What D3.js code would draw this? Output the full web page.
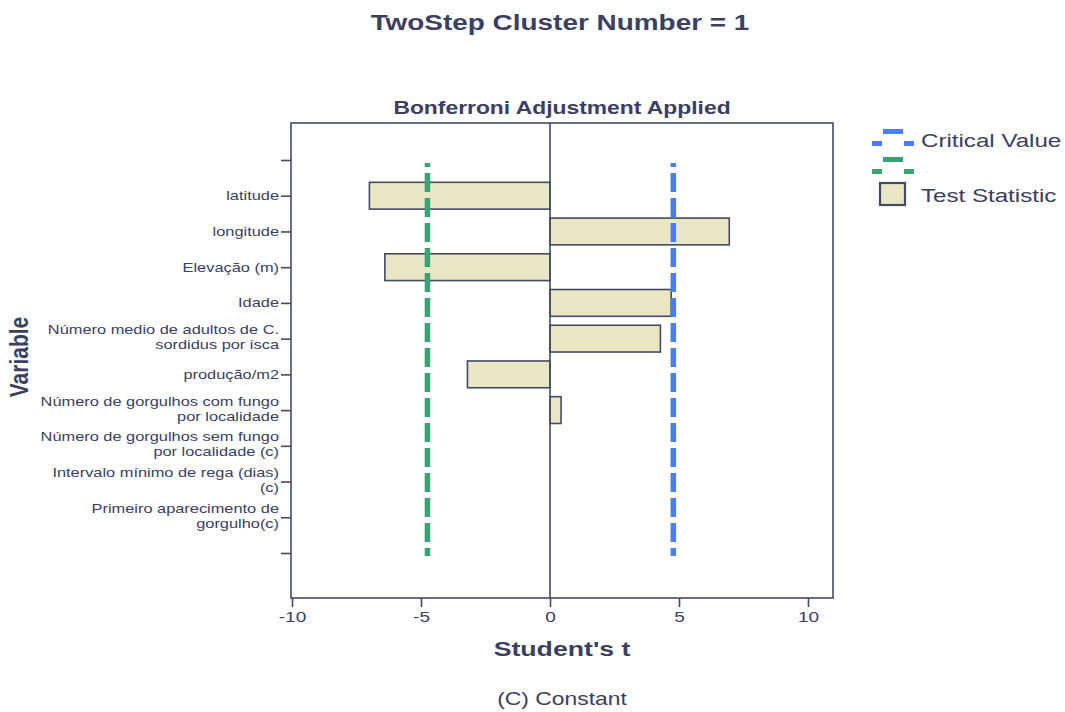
<!DOCTYPE html>
<html>
<head>
<meta charset="utf-8">
<script src="https://cdnjs.cloudflare.com/ajax/libs/d3/7.8.5/d3.min.js"></script>
<style>
  html, body { margin: 0; padding: 0; background: #ffffff; }
  svg { display: block; font-family: "Liberation Sans", Arial, sans-serif; }
</style>
</head>
<body>
<svg id="chart" width="1065" height="712"></svg>
<script>
// Variables (top to bottom); "(c)" marks variables held constant in the cluster
const variables = [
  "latitude",
  "longitude",
  "Elevação (m)",
  "Idade",
  "Número medio de adultos de C.\nsordidus por isca",
  "produção/m2",
  "Número de gorgulhos com fungo\npor localidade",
  "Número de gorgulhos sem fungo\npor localidade (c)",
  "Intervalo mínimo de rega (dias)\n(c)",
  "Primeiro aparecimento de\ngorgulho(c)"
];
// Student's t test statistic per variable (null = constant, no bar)
const testStatistic = [-7.0, 6.95, -6.4, 4.7, 4.28, -3.2, 0.43, null, null, null];
// Bonferroni-adjusted critical values
const criticalLow = -4.75;
const criticalHigh = 4.78;
const xTicks = [-10, -5, 0, 5, 10];

const textColor = "#3b4060";
const frameColor = "#434a66";
const barFill = "#e9e6c3";
const blue = "#4a7ef2";
const green = "#3aa375";
const SX = 1.27; // wide lettering

const svg = d3.select("#chart");
const frame = { left: 291, right: 833, top: 123, bottom: 598 };

const x = d3.scaleLinear().domain([-10, 10.97]).range([frame.left + 1, frame.right]);

// slots: empty row, 10 variables, empty row
const slots = ["__top"].concat(variables).concat(["__bottom"]);
const y = d3.scalePoint().domain(slots).range([160, 553]);
const step = y.step();
const barH = step * 0.75;

function label(parent, px, py, str, size, opts = {}) {
  return parent.append("text")
    .attr("transform", `translate(${px},${py}) scale(${SX},1)`)
    .attr("text-anchor", opts.anchor || "middle")
    .attr("font-size", size)
    .attr("font-weight", opts.bold ? "bold" : "normal")
    .attr("fill", textColor)
    .text(str);
}

// Titles
label(svg, 560, 30, "TwoStep Cluster Number = 1", 22, { bold: true });
label(svg, 562, 114, "Bonferroni Adjustment Applied", 18, { bold: true });

// Plot frame
svg.append("rect")
  .attr("x", frame.left).attr("y", frame.top)
  .attr("width", frame.right - frame.left).attr("height", frame.bottom - frame.top)
  .attr("fill", "none").attr("stroke", frameColor).attr("stroke-width", 1.6);

// Bars
const rows = variables.map((v, i) => ({ v, t: testStatistic[i] })).filter(d => d.t !== null);
svg.append("g").selectAll("rect").data(rows).join("rect")
  .attr("x", d => x(Math.min(0, d.t)))
  .attr("width", d => Math.abs(x(d.t) - x(0)))
  .attr("y", d => y(d.v) - barH / 2)
  .attr("height", barH)
  .attr("fill", barFill)
  .attr("stroke", frameColor)
  .attr("stroke-width", 1.6);

// Zero reference line
svg.append("line")
  .attr("x1", x(0)).attr("x2", x(0))
  .attr("y1", frame.top).attr("y2", frame.bottom)
  .attr("stroke", frameColor).attr("stroke-width", 1.6);

// Critical value lines
const yLineTop = y("__top") + 3;
const yLineBot = y("__bottom") + 3;
[[criticalLow, green], [criticalHigh, blue]].forEach(([val, col]) => {
  const g = svg.append("g");
  g.append("line")
    .attr("x1", x(val)).attr("x2", x(val))
    .attr("y1", yLineTop).attr("y2", yLineTop + 4)
    .attr("stroke", col).attr("stroke-width", 5.5);
  g.append("line")
    .attr("x1", x(val)).attr("x2", x(val))
    .attr("y1", yLineTop + 10).attr("y2", yLineBot)
    .attr("stroke", col).attr("stroke-width", 5.5)
    .attr("stroke-dasharray", "19,6");
});

// X axis
const xAxis = svg.append("g")
  .attr("transform", `translate(0,${frame.bottom})`)
  .call(d3.axisBottom(x).tickValues(xTicks).tickSize(9).tickPadding(4)
    .tickFormat(d => String(d)));
xAxis.select(".domain").remove();
xAxis.selectAll("line").attr("stroke", frameColor).attr("stroke-width", 1.6);
xAxis.selectAll("text").attr("fill", textColor).attr("font-size", 15)
  .attr("font-family", "Liberation Sans, Arial, sans-serif")
  .attr("transform", `scale(${SX},1)`);

// Y axis ticks
const yAxis = svg.append("g")
  .attr("transform", `translate(${frame.left},0)`)
  .call(d3.axisLeft(y).tickSize(10).tickFormat(""));
yAxis.select(".domain").remove();
yAxis.selectAll("line").attr("stroke", frameColor).attr("stroke-width", 1.6);

// Y category labels (multi-line)
const labelG = svg.append("g");
variables.forEach(v => {
  const lines = v.split("\n");
  const lh = 15;
  const cy = y(v);
  const y0 = lines.length === 1 ? cy + 4.5 : cy - 4.5;
  const t = labelG.append("text")
    .attr("transform", `translate(${frame.left - 12},0) scale(${SX},1)`)
    .attr("text-anchor", "end")
    .attr("font-size", 12.9)
    .attr("fill", textColor);
  lines.forEach((ln, i) => {
    t.append("tspan").attr("x", 0).attr("y", y0 + i * lh).text(ln);
  });
});

// Axis titles
label(svg, 562, 656, "Student's t", 21, { bold: true });
svg.append("text")
  .attr("transform", "translate(28,357) rotate(-90) scale(1,1.2)")
  .attr("text-anchor", "middle")
  .attr("font-size", 21).attr("font-weight", "bold").attr("fill", textColor)
  .text("Variable");
label(svg, 562, 705, "(C) Constant", 18);

// Legend: dashed-line glyphs (short, long raised, short) and a swatch
const lg = svg.append("g");
[[129, blue], [157, green]].forEach(([ly, col]) => {
  lg.append("rect").attr("x", 883).attr("y", ly).attr("width", 20).attr("height", 5).attr("fill", col);
  lg.append("rect").attr("x", 872).attr("y", ly + 12).attr("width", 10).attr("height", 5).attr("fill", col);
  lg.append("rect").attr("x", 904).attr("y", ly + 12).attr("width", 10).attr("height", 5).attr("fill", col);
});
label(lg, 921, 147, "Critical Value", 19, { anchor: "start" });
lg.append("rect").attr("x", 880).attr("y", 183).attr("width", 25).attr("height", 22)
  .attr("fill", barFill).attr("stroke", frameColor).attr("stroke-width", 2.2);
label(lg, 921, 202, "Test Statistic", 19, { anchor: "start" });
</script>
</body>
</html>
